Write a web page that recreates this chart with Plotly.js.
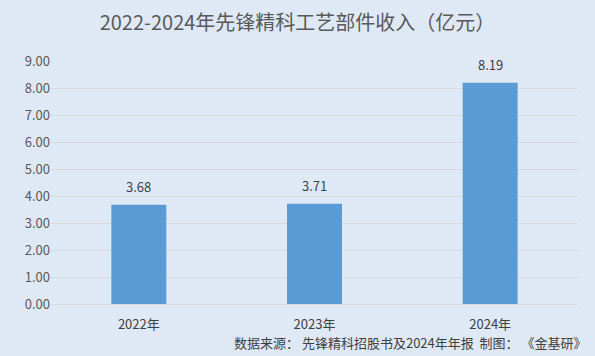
<!DOCTYPE html>
<html>
<head>
<meta charset="utf-8">
<script src="https://cdn.plot.ly/plotly-3.0.1.min.js"></script>
<style>html,body{margin:0;padding:0;background:#dfe9f5;}#chart{width:595px;height:356px;}</style>
</head>
<body>
<div id="chart"></div>
<script>
const years = ['2022年', '2023年', '2024年'];
const revenue = [3.68, 3.71, 8.19];
const yTicks = [0, 1, 2, 3, 4, 5, 6, 7, 8, 9];
const yTickText = yTicks.map(v => v.toFixed(2));
const font = '"Noto Sans CJK SC", "Noto Sans", sans-serif';

const labelAnns = years.map((yr, i) => ({
  x: yr, y: revenue[i], xref: 'x', yref: 'y',
  text: revenue[i].toFixed(2), showarrow: false,
  yanchor: 'bottom', yshift: 7,
  font: {size: 13, color: '#404040', family: font}
}));

Plotly.newPlot('chart', [{
  type: 'bar',
  x: years,
  y: revenue,
  width: 0.313,
  marker: {color: '#5b9bd5'},
  hoverinfo: 'none'
}], {
  width: 595, height: 356,
  paper_bgcolor: '#dfe9f5',
  plot_bgcolor: '#dfe9f5',
  margin: {l: 51, r: 17, t: 61, b: 52},
  title: {text: '2022-2024年先锋精科工艺部件收入（亿元）', x: 0.5, xanchor: 'center', y: 0.935, yanchor: 'middle',
    font: {size: 20, color: '#595959', family: font}},
  showlegend: false,
  bargap: 0.687,
  xaxis: {
    showgrid: false, showline: true, linecolor: '#d9d9d9', linewidth: 1,
    tickfont: {size: 13, color: '#404040', family: font},
    ticks: 'outside', ticklen: 8, tickcolor: 'rgba(0,0,0,0)', fixedrange: true
  },
  yaxis: {
    range: [0, 9], tickvals: yTicks, ticktext: yTickText,
    showgrid: true, gridcolor: '#d5d9de', gridwidth: 1, zeroline: false, showline: false,
    tickfont: {size: 13, color: '#595959', family: font}, ticks: '', ticklen: 0, fixedrange: true
  },
  annotations: labelAnns.concat([{
    text: '数据来源： 先锋精科招股书及2024年年报  制图： 《金基研》',
    xref: 'paper', yref: 'paper', x: 1.02, y: -0.16, xanchor: 'right', yanchor: 'middle',
    showarrow: false, font: {size: 13, color: '#404040', family: font}
  }])
}, {staticPlot: true});
</script>
</body>
</html>
